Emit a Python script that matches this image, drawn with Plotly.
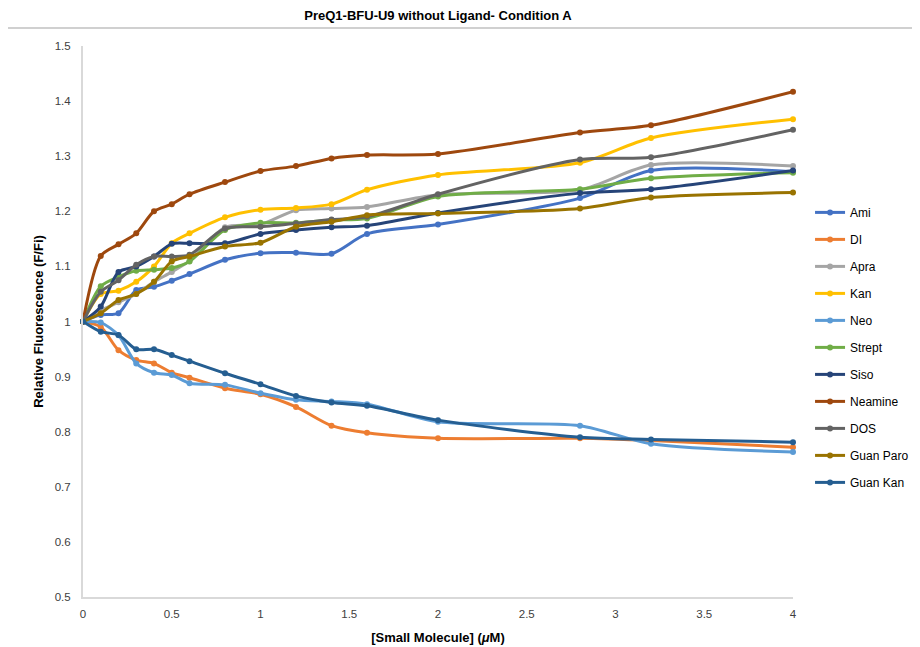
import plotly.graph_objects as go

conc = [0, 0.1, 0.2, 0.3, 0.4, 0.5, 0.6, 0.8, 1, 1.2, 1.4, 1.6, 2, 2.8, 3.2, 4]

ami = [1, 1.012, 1.015, 1.057, 1.063, 1.074, 1.086, 1.112, 1.124, 1.125, 1.123, 1.159, 1.176, 1.224, 1.274, 1.272]
di = [1, 0.99, 0.948, 0.93, 0.924, 0.907, 0.898, 0.879, 0.868, 0.845, 0.811, 0.798, 0.788, 0.788, 0.784, 0.772]
apra = [1, 1.02, 1.035, 1.05, 1.072, 1.09, 1.11, 1.171, 1.176, 1.202, 1.205, 1.208, 1.23, 1.239, 1.284, 1.282]
kan = [1, 1.05, 1.056, 1.072, 1.1, 1.142, 1.16, 1.189, 1.203, 1.206, 1.213, 1.239, 1.266, 1.288, 1.333, 1.367]
neo = [1, 0.998, 0.975, 0.924, 0.907, 0.903, 0.888, 0.885, 0.870, 0.858, 0.855, 0.850, 0.818, 0.811, 0.778, 0.763]
strept = [1, 1.064, 1.081, 1.092, 1.094, 1.097, 1.109, 1.166, 1.179, 1.179, 1.184, 1.187, 1.227, 1.24, 1.26, 1.27]
siso = [1, 1.027, 1.09, 1.1, 1.118, 1.141, 1.142, 1.142, 1.159, 1.166, 1.171, 1.174, 1.197, 1.233, 1.24, 1.274]
neamine = [1, 1.119, 1.14, 1.16, 1.2, 1.213, 1.231, 1.253, 1.273, 1.282, 1.296, 1.302, 1.304, 1.343, 1.356, 1.417]
dos = [1, 1.054, 1.075, 1.103, 1.118, 1.118, 1.121, 1.169, 1.172, 1.178, 1.185, 1.19, 1.231, 1.294, 1.298, 1.348]
guan_paro = [1, 1.015, 1.039, 1.05, 1.072, 1.109, 1.118, 1.136, 1.143, 1.172, 1.181, 1.193, 1.196, 1.205, 1.225, 1.234]
guan_kan = [1, 0.9815, 0.9755, 0.9495, 0.9495, 0.939, 0.928, 0.906, 0.886, 0.865, 0.853, 0.847, 0.821, 0.79, 0.786, 0.781]

series_names = ["Ami", "DI", "Apra", "Kan", "Neo", "Strept", "Siso", "Neamine", "DOS", "Guan Paro", "Guan Kan"]
series_values = [ami, di, apra, kan, neo, strept, siso, neamine, dos, guan_paro, guan_kan]
colors = ["#4472C4", "#ED7D31", "#A5A5A5", "#FFC000", "#5B9BD5", "#70AD47",
          "#264478", "#9E480E", "#636363", "#997300", "#255E91"]

fig = go.Figure()
for name, vals, col in zip(series_names, series_values, colors):
    fig.add_trace(go.Scatter(
        x=conc, y=vals, name=name, mode="lines+markers",
        line=dict(color=col, width=3, shape="spline", smoothing=0.8),
        marker=dict(color=col, size=6),
        cliponaxis=False, legendgroup=name,
    ))

fig.update_layout(
    width=920, height=647,
    margin=dict(l=75, r=135, t=38, b=58, autoexpand=False),
    paper_bgcolor="white", plot_bgcolor="white",
    font=dict(family="Liberation Sans, Arial, sans-serif", color="#404040", size=11),
    title=dict(text="<b>PreQ1-BFU-U9 without Ligand- Condition A</b>",
               x=0.5, xref="paper", xanchor="center", y=0.988, yanchor="middle",
               font=dict(size=13, color="#000000")),
    showlegend=True,
    legend=dict(x=1.024, xanchor="left", y=0.453, yanchor="middle",
                font=dict(size=12, color="#000000"), tracegroupgap=8,
                itemwidth=30, bgcolor="rgba(0,0,0,0)"),
    xaxis=dict(range=[0, 4], tickvals=[0, 0.5, 1, 1.5, 2, 2.5, 3, 3.5, 4],
               ticktext=["0", "0.5", "1", "1.5", "2", "2.5", "3", "3.5", "4"],
               showgrid=False, zeroline=False, showline=True, linecolor="#D9D9D9", linewidth=2,
               ticks="", tickfont=dict(size=11.5, color="#404040"), automargin=False,
               ticklabelstandoff=5,
               title=dict(text="<b>[Small Molecule] (<i>μ</i>M)</b>",
                          font=dict(size=13, color="#000000"), standoff=14)),
    yaxis=dict(range=[0.5, 1.5], tickvals=[0.5, 0.6, 0.7, 0.8, 0.9, 1, 1.1, 1.2, 1.3, 1.4, 1.5],
               ticktext=["0.5", "0.6", "0.7", "0.8", "0.9", "1", "1.1", "1.2", "1.3", "1.4", "1.5"],
               showgrid=False, zeroline=False, showline=True, linecolor="#D9D9D9", linewidth=2,
               ticks="", tickfont=dict(size=11.5, color="#404040"), automargin=False,
               ticklabelstandoff=8,
               title=dict(text="<b>Relative Fluorescence (F/Fi)</b>",
                          font=dict(size=13, color="#000000"), standoff=8)),
    shapes=[dict(type="line", xref="paper", yref="paper", x0=-0.11, x1=1.2,
                 y0=1.0327, y1=1.0327, line=dict(color="#D0D0D0", width=2))],
)

fig.write_html("out.html")
